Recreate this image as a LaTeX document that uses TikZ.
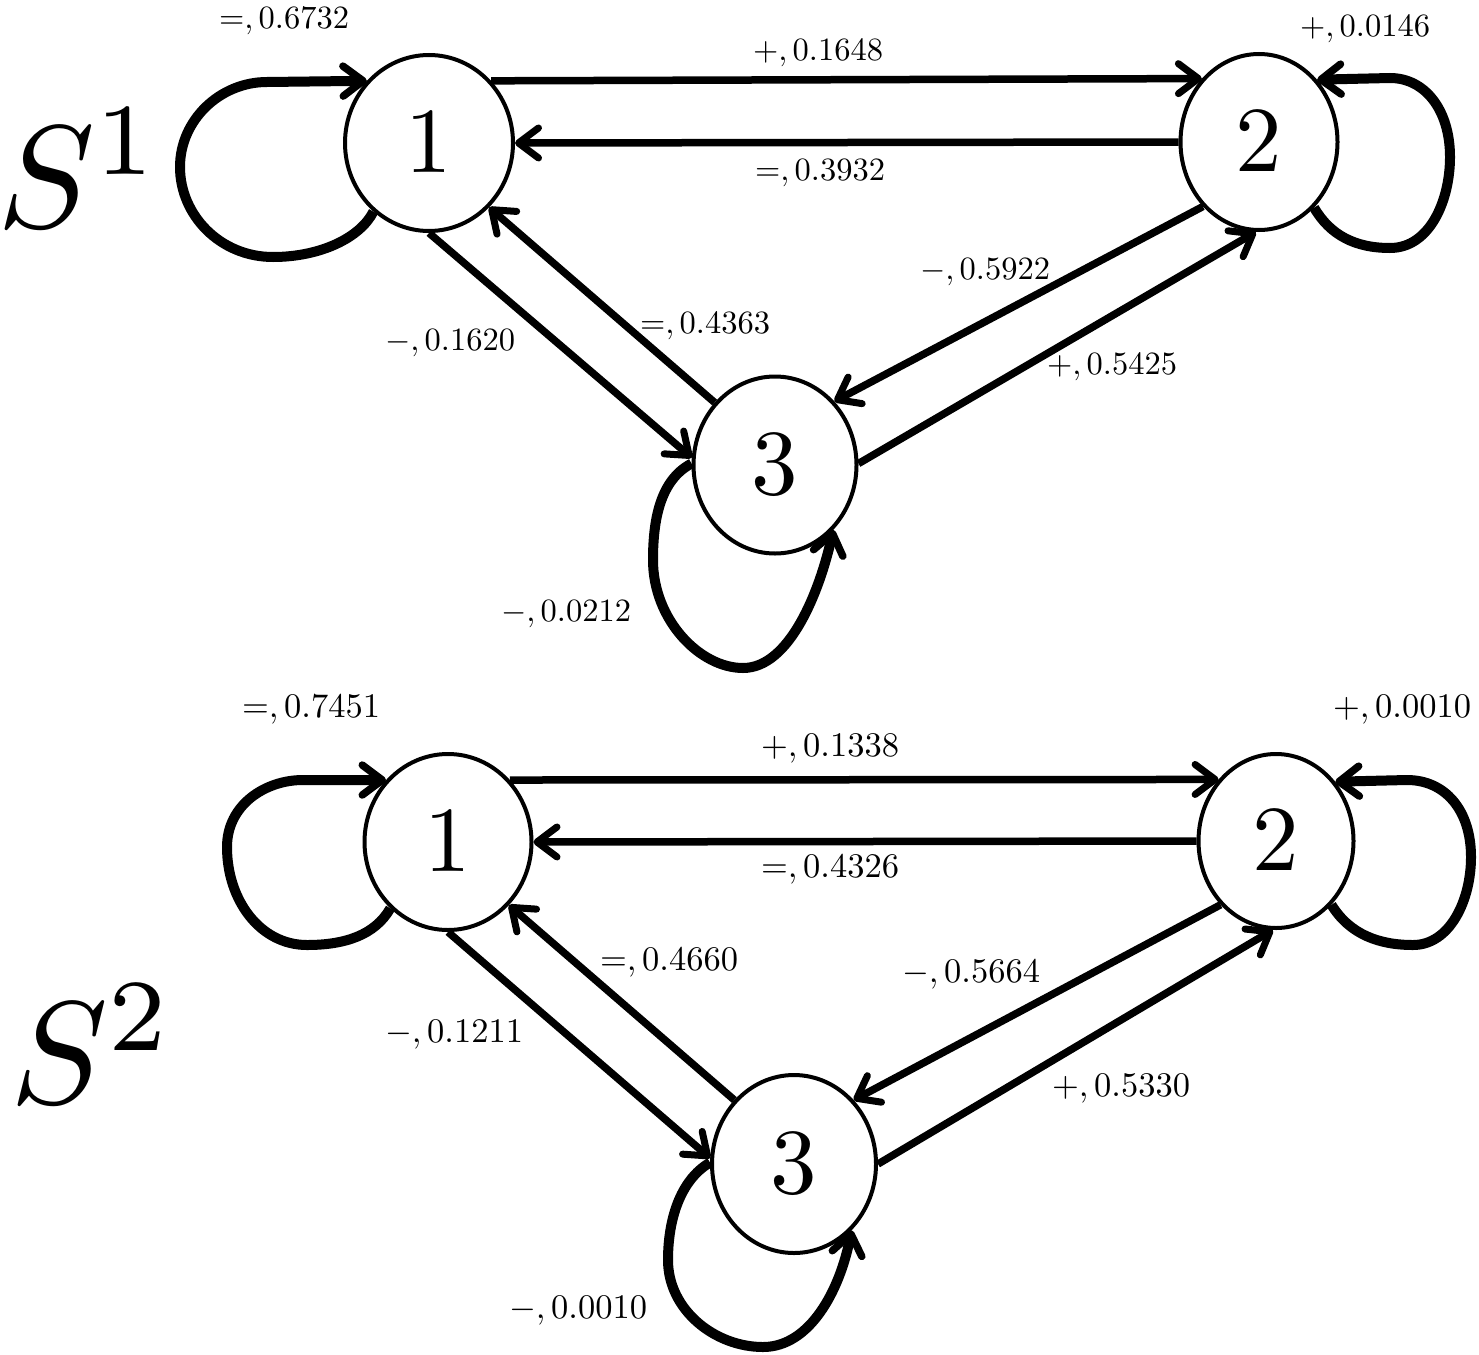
\documentclass[tikz,border=0pt]{standalone}
\usepackage{graphicx}
\usetikzlibrary{arrows.meta,shapes.geometric}
\newcommand\toplbl[1]{\scalebox{3.25}{$#1$}}
\newcommand\botlbl[1]{\scalebox{3.45}{$#1$}}
\newcommand\stnum[1]{\scalebox{9.3}{$#1$}}
\newcommand\bigS[1]{\scalebox{14.6}{$S^{#1}$}}
\begin{document}
\begin{tikzpicture}[x=1pt,y=-1pt,
  st/.style={draw, ellipse, line width=4pt, inner sep=0pt, fill=white},
  edge/.style={line width=7.5pt, -{Straight Barb[length=20pt,width=30pt,round,line width=7pt]}},
  loopedge/.style={line width=10pt, -{Straight Barb[length=20pt,width=30pt,round,line width=7.5pt]}},
  lbl/.style={anchor=base, inner sep=0pt},
  slabel/.style={anchor=base west, inner sep=0pt}]
\useasboundingbox (0,0) rectangle (1479,1354);

% ---------- S^1 ----------
\node[slabel] (s1) at (-3,227) {\bigS{1}};
\node[st, minimum width=168pt, minimum height=176pt] (A1) at (429,143) {\stnum{1}};
\node[st, minimum width=157pt, minimum height=176pt] (A2) at (1259,142) {\stnum{2}};
\node[st, minimum width=163pt, minimum height=177pt] (A3) at (775,465) {\stnum{3}};

\draw[edge] (A1.45.7) -- (A2.132.2);
\draw[edge] (A2.west) -- (A1.east);
\draw[edge] (A1.south) -- (A3.175);
\draw[edge] (A3.134) -- (A1.-47);
\draw[edge] (A2.-131) -- (A3.47);
\draw[edge] (A3.1) -- (A2.-92);

\draw[loopedge] (A1.231) .. controls (360,238) and (320,257) .. (273,257)
  .. controls (220,257) and (180,215) .. (180,167)
  .. controls (180,120) and (220,82) .. (267,82) -- (A1.135.5);
\draw[loopedge] (A2.-50) .. controls (1330,235) and (1355,248) .. (1390,248)
  .. controls (1430,248) and (1450,200) .. (1450,157)
  .. controls (1450,110) and (1425,78) .. (1390,78) -- (A2.47);
\draw[loopedge] (A3.179) .. controls (660,480) and (653,520) .. (653,560)
  .. controls (653,620) and (700,668) .. (743,668)
  .. controls (790,668) and (820,590) .. (A3.-48);

\node[lbl] (t1) at (284,29) {\toplbl{=,0.6732}};
\node[lbl] (t2) at (818,60) {\toplbl{+,0.1648}};
\node[lbl] (t3) at (820,180) {\toplbl{=,0.3932}};
\node[lbl] (t4) at (450,350) {\toplbl{-,0.1620}};
\node[lbl] (t5) at (705,333) {\toplbl{=,0.4363}};
\node[lbl] (t6) at (985,279) {\toplbl{-,0.5922}};
\node[lbl] (t7) at (1112,374) {\toplbl{+,0.5425}};
\node[lbl] (t8) at (1365,37) {\toplbl{+,0.0146}};
\node[lbl] (t9) at (566,621) {\toplbl{-,0.0212}};

% ---------- S^2 ----------
\node[slabel] (s2) at (10,1103) {\bigS{2}};
\node[st, minimum width=167pt, minimum height=176pt] (B1) at (448,842) {\stnum{1}};
\node[st, minimum width=155pt, minimum height=174pt] (B2) at (1276,841) {\stnum{2}};
\node[st, minimum width=164pt, minimum height=178pt] (B3) at (794,1164) {\stnum{3}};

\draw[edge] (B1.45) -- (B2.133);
\draw[edge] (B2.west) -- (B1.east);
\draw[edge] (B1.south) -- (B3.176);
\draw[edge] (B3.133) -- (B1.-46);
\draw[edge] (B2.-131) -- (B3.47);
\draw[edge] (B3.east) -- (B2.-92);

\draw[loopedge] (B1.229.5) .. controls (375,935) and (345,945) .. (307,945)
  .. controls (260,945) and (227,900) .. (227,847)
  .. controls (227,805) and (265,780) .. (303,780) -- (B1.135.5);
\draw[loopedge] (B2.-49) .. controls (1350,935) and (1380,945) .. (1413,945)
  .. controls (1450,945) and (1471,900) .. (1471,857)
  .. controls (1471,810) and (1445,780) .. (1407,780) -- (B2.45);
\draw[loopedge] (B3.179) .. controls (680,1180) and (668,1220) .. (668,1260)
  .. controls (668,1310) and (715,1347) .. (763,1347)
  .. controls (810,1347) and (840,1290) .. (B3.-49);

\node[lbl] (u1) at (311,717) {\botlbl{=,0.7451}};
\node[lbl] (u2) at (830,756) {\botlbl{+,0.1338}};
\node[lbl] (u3) at (830,877) {\botlbl{=,0.4326}};
\node[lbl] (u4) at (669,970) {\botlbl{=,0.4660}};
\node[lbl] (u5) at (454,1042) {\botlbl{-,0.1211}};
\node[lbl] (u6) at (971,982) {\botlbl{-,0.5664}};
\node[lbl] (u7) at (1121,1096) {\botlbl{+,0.5330}};
\node[lbl] (u8) at (1402,717) {\botlbl{+,0.0010}};
\node[lbl] (u9) at (578,1318) {\botlbl{-,0.0010}};
\end{tikzpicture}
\end{document}
